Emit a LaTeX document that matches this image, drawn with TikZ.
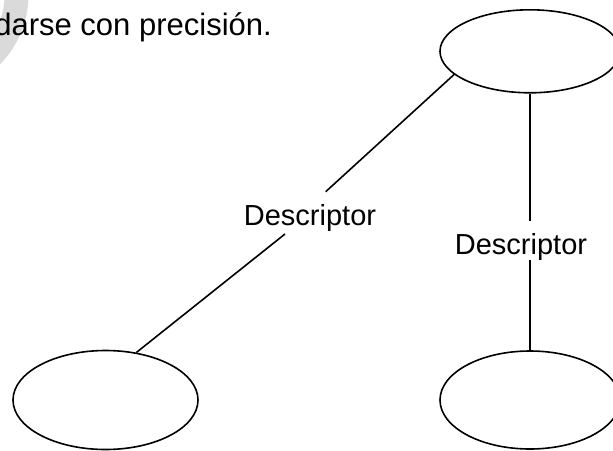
\documentclass[tikz,border=0pt]{standalone}
\usepackage{fontspec}
\setmainfont{Liberation Sans}
\usetikzlibrary{shapes.geometric}
\definecolor{wmgray}{RGB}{218,218,218}
\tikzset{
  ent/.style={draw=black, line width=1.6pt, ellipse, inner sep=0pt},
  conn/.style={draw=black, line width=1.6pt},
  lbl/.style={inner sep=0pt, font=\fontsize{29}{31}\selectfont},
  toptext/.style={inner sep=0pt, font=\fontsize{31}{33}\selectfont}
}
\begin{document}
\begin{tikzpicture}[x=1pt,y=-1pt]
\useasboundingbox (0,0) rectangle (613,450);
\clip (0,0) rectangle (613,450);
% light grey watermark arc
\fill[wmgray, even odd rule] (-70,-5) circle[radius=98.5pt] (-70,-5) circle[radius=74.5pt];
% text
\node[toptext, anchor=base east] (t0) at (272,35) {darse con precisión.};
% entities
\node[ent, minimum width=180pt, minimum height=83pt] (top) at (530,51.3) {};
\node[ent, minimum width=185pt, minimum height=99pt] (bl) at (105.5,400) {};
\node[ent, minimum width=180pt, minimum height=98pt] (br) at (530,400) {};
% labels
\node[lbl, anchor=base] (l1) at (310,225) {Descriptor};
\node[lbl, anchor=base] (l2) at (521,254) {Descriptor};
% gap coordinates
\coordinate (c1) at (325.7,191.7);
\coordinate (c2) at (285,234);
\coordinate (c3) at (530,220.7);
\coordinate (c4) at (530,260);
% connectors
\draw[conn] (top.197.8) -- (c1);
\draw[conn] (c2) -- (bl.57.7);
\draw[conn] (top.south) -- (c3);
\draw[conn] (c4) -- (br.north);
\end{tikzpicture}
\end{document}
